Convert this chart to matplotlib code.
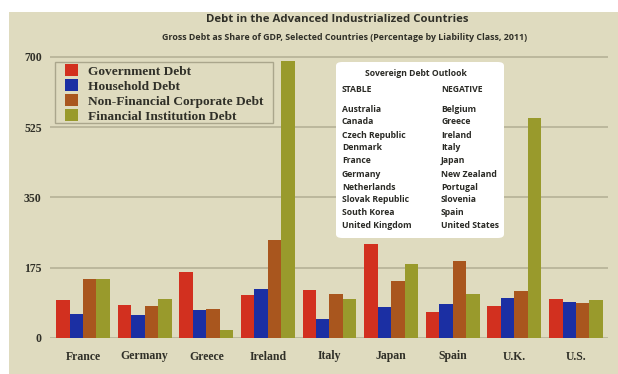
import numpy as np
import matplotlib
matplotlib.use("Agg")
import matplotlib.pyplot as plt
from matplotlib.patches import Rectangle, FancyBboxPatch

countries = ["France", "Germany", "Greece", "Ireland", "Italy", "Japan", "Spain", "U.K.", "U.S."]
government = [94, 81, 164, 108, 120, 233, 65, 80, 98]
household = [59, 58, 69, 122, 48, 76, 85, 100, 90]
nonfin_corp = [148, 79, 73, 243, 109, 142, 192, 116, 87]
financial = [148, 96, 21, 690, 96, 185, 109, 547, 94]

series_names = ["Government Debt", "Household Debt",
                "Non-Financial Corporate Debt", "Financial Institution Debt"]
colors = ["#d2301f", "#1b2fa3", "#a9561e", "#999a2c"]

yticks = [0, 175, 350, 525, 700]

stable = ["Australia", "Canada", "Czech Republic", "Denmark", "France",
          "Germany", "Netherlands", "Slovak Republic", "South Korea", "United Kingdom"]
negative = ["Belgium", "Greece", "Ireland", "Italy", "Japan",
            "New Zealand", "Portugal", "Slovenia", "Spain", "United States"]

W, H = 618, 374
bg = "#dfdbbf"
ink = "#303028"

fig = plt.figure(figsize=(W / 100, H / 100), dpi=100, facecolor="white")
fig.patches.append(Rectangle((9 / W, 0), 1 - 9 / W, 1 - 12 / H, transform=fig.transFigure,
                             facecolor=bg, edgecolor="none", zorder=-10))

ax = fig.add_axes([50 / W, 1 - 338 / H, 558 / W, (338 - 57) / H * 705 / 700])
ax.set_facecolor("none")

x = np.arange(len(countries))
bw = 0.218
for i, (vals, name, c) in enumerate(zip([government, household, nonfin_corp, financial],
                                         series_names, colors)):
    ax.bar(x + (i - 1.5) * bw, vals, width=bw, color=c, label=name, zorder=3)

ax.set_xlim(-0.536, 8.52)
ax.set_ylim(0, 705)
ax.set_yticks(yticks)
ax.set_xticks(x)
ax.set_xticklabels(countries)
ax.yaxis.grid(True, color="#b5b197", linewidth=1.2, zorder=0)
for s in ax.spines.values():
    s.set_visible(False)
ax.tick_params(length=0, labelsize=8.5, colors=ink)
ax.tick_params(axis="x", pad=9)
ax.tick_params(axis="y", pad=6)
for lab in ax.get_xticklabels() + ax.get_yticklabels():
    lab.set_fontfamily("Liberation Serif")
    lab.set_fontweight("bold")

# legend: frame drawn by hand so the inner padding can be wider than the top one
fig.patches.append(Rectangle((55 / W, 1 - 123 / H), 218 / W, 61 / H, transform=fig.transFigure,
                             facecolor=bg, edgecolor="#aaa68c", linewidth=1.0, zorder=4))
leg = fig.legend(*ax.get_legend_handles_labels(), loc="upper left",
                 bbox_to_anchor=(63 / W, 1 - 62 / H), frameon=False,
                 prop={"family": "Liberation Serif", "weight": "bold", "size": 9.6},
                 handlelength=1.0, handleheight=1.0, handletextpad=0.7,
                 labelspacing=0.12, borderpad=0.15, borderaxespad=0)
leg.set_zorder(5)
for t in leg.get_texts():
    t.set_color(ink)

fig.text(337 / W, 1 - 20 / H, "Debt in the Advanced Industrialized Countries",
         ha="center", va="center", fontsize=8.2, fontweight="bold",
         family="Open Sans", color=ink)
fig.text(345 / W, 1 - 38 / H,
         "Gross Debt as Share of GDP, Selected Countries (Percentage by Liability Class, 2011)",
         ha="center", va="center", fontsize=6.4, fontweight="bold",
         family="Open Sans", color=ink)

# outlook box
box = FancyBboxPatch((336 / W, 1 - 238 / H), 168 / W, 176 / H,
                     boxstyle="round,pad=0,rounding_size=0.01",
                     transform=fig.transFigure, facecolor="white", edgecolor="none", zorder=5)
fig.patches.append(box)
tkw = dict(fontsize=6.2, fontweight="bold", family="Open Sans", color="#2a2a25",
           va="center", zorder=6)
fig.text(416 / W, 1 - 73 / H, "Sovereign Debt Outlook", ha="center", **tkw)
fig.text(342 / W, 1 - 89 / H, "STABLE", ha="left", **tkw)
fig.text(441 / W, 1 - 89 / H, "NEGATIVE", ha="left", **tkw)
for k, (a, b) in enumerate(zip(stable, negative)):
    yy = 1 - (109 + k * 13) / H
    fig.text(342 / W, yy, a, ha="left", **tkw)
    fig.text(441 / W, yy, b, ha="left", **tkw)

fig.savefig("out.png", dpi=100, facecolor="white")
